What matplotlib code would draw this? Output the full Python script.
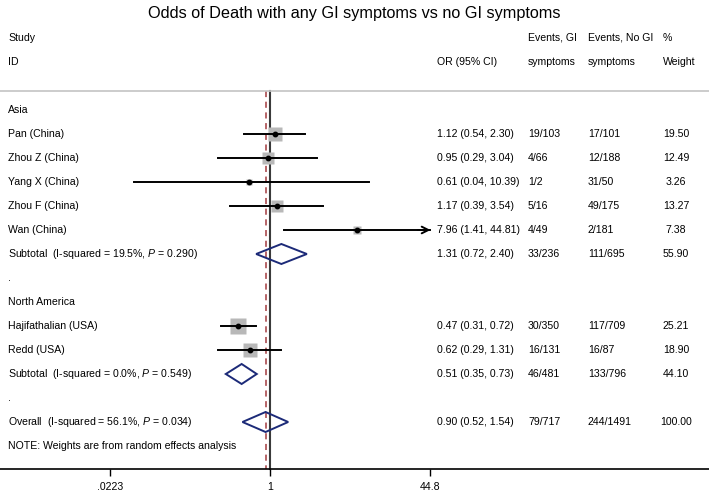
import numpy as np
import matplotlib
matplotlib.use("Agg")
import matplotlib.pyplot as plt
from matplotlib.transforms import blended_transform_factory
from matplotlib.patches import Polygon

plt.rcParams['font.family'] = ['Liberation Sans', 'DejaVu Sans']
plt.rcParams['mathtext.fontset'] = 'custom'
plt.rcParams['mathtext.rm'] = 'Liberation Sans'
plt.rcParams['mathtext.it'] = 'Liberation Sans:italic'

# study level data
asia_names = ["Pan (China)", "Zhou Z (China)", "Yang X (China)", "Zhou F (China)", "Wan (China)"]
asia_or = [1.12, 0.95, 0.61, 1.17, 7.96]
asia_lo = [0.54, 0.29, 0.04, 0.39, 1.41]
asia_hi = [2.30, 3.04, 10.39, 3.54, 44.81]
asia_ev_gi = ["19/103", "4/66", "1/2", "5/16", "4/49"]
asia_ev_nogi = ["17/101", "12/188", "31/50", "49/175", "2/181"]
asia_w = [19.50, 12.49, 3.26, 13.27, 7.38]

na_names = ["Hajifathalian (USA)", "Redd (USA)"]
na_or = [0.47, 0.62]
na_lo = [0.31, 0.29]
na_hi = [0.72, 1.31]
na_ev_gi = ["30/350", "16/131"]
na_ev_nogi = ["117/709", "16/87"]
na_w = [25.21, 18.90]

# pooled estimates: (label, or, lo, hi, ev_gi, ev_nogi, weight)
sub_asia = ("19.5%", "0.290", 1.31, 0.72, 2.40, "33/236", "111/695", 55.90)
sub_na = ("0.0%", "0.549", 0.51, 0.35, 0.73, "46/481", "133/796", 44.10)
overall = ("56.1%", "0.034", 0.90, 0.52, 1.54, "79/717", "244/1491", 100.00)

xticks = [0.0223, 1, 44.8]
xticklabels = [".0223", "1", "44.8"]

fig = plt.figure(figsize=(7.09, 4.91), dpi=100)
ax = fig.add_axes([0, 0, 1, 1])
ax.set_xscale('log')
px_per_ln = 42.1
ax.set_xlim(np.exp(-270 / px_per_ln), np.exp(439 / px_per_ln))
ax.set_ylim(15.875, -4.583)
for s in ['top', 'left', 'right']:
    ax.spines[s].set_visible(False)
ax.spines['bottom'].set_position(('data', 14.96))
ax.spines['bottom'].set_linewidth(1.2)
ax.set_yticks([])
ax.set_xticks(xticks)
ax.set_xticklabels(xticklabels, fontsize=7.6)
ax.xaxis.set_minor_locator(matplotlib.ticker.NullLocator())
ax.tick_params(axis='x', direction='out', length=5, width=1, pad=4)

tr = blended_transform_factory(ax.transAxes, ax.transData)
fs = 7.6
W = 709.0
col_or, col_gi, col_nogi, col_w = 437 / W, 528 / W, 588 / W, 676 / W
col_lbl = 8 / W

ax.text(0.5, -4.0, "Odds of Death with any GI symptoms vs no GI symptoms",
        transform=tr, ha='center', va='center', fontsize=11.7)
ax.text(col_lbl, -3, "Study", transform=tr, va='center', fontsize=fs)
ax.text(col_lbl, -2, "ID", transform=tr, va='center', fontsize=fs)
ax.text(col_or, -2, "OR (95% CI)", transform=tr, va='center', fontsize=fs)
ax.text(col_gi, -3, "Events, GI", transform=tr, va='center', fontsize=fs)
ax.text(col_gi, -2, "symptoms", transform=tr, va='center', fontsize=fs)
ax.text(col_nogi, -3, "Events, No GI", transform=tr, va='center', fontsize=fs)
ax.text(col_nogi, -2, "symptoms", transform=tr, va='center', fontsize=fs)
ax.text(663 / W, -3, "%", transform=tr, va='center', fontsize=fs)
ax.text(663 / W, -2, "Weight", transform=tr, va='center', fontsize=fs)

ax.axhline(-0.79, color='#c4c4c4', lw=1.2)

# reference lines
ax.plot([1, 1], [-0.79, 14.96], color='#3a3a3a', lw=1.5, zorder=1)
ax.plot([overall[2]] * 2, [-0.79, 14.96], color='#a33a3f', lw=1.1,
        dashes=(4, 3), zorder=1)


def study_row(y, name, est, lo, hi, egi, enogi, w):
    ax.text(col_lbl, y, name, transform=tr, va='center', fontsize=fs)
    xmax = ax.get_xlim()[1]
    if hi >= 44.8:
        ax.plot([lo, hi], [y, y], color='black', lw=1.4, zorder=2)
        ax.annotate("", xy=(hi * 1.08, y), xytext=(hi * 0.7, y),
                    arrowprops=dict(arrowstyle='->', color='black', lw=1.4,
                                    mutation_scale=12), zorder=2)
    else:
        ax.plot([lo, hi], [y, y], color='black', lw=1.4, zorder=2)
    side = 3.2 * np.sqrt(w) * 0.72
    ax.plot(est, y, marker='s', ms=side, color='#b8b8b8', mec='none', zorder=1.5)
    ax.plot(est, y, marker='o', ms=3.2, color='black', zorder=3)
    ax.text(col_or, y, f"{est:.2f} ({lo:.2f}, {hi:.2f})", transform=tr,
            va='center', fontsize=fs)
    ax.text(col_gi, y, egi, transform=tr, va='center', fontsize=fs)
    ax.text(col_nogi, y, enogi, transform=tr, va='center', fontsize=fs)
    ax.text(col_w, y, f"{w:.2f}", transform=tr, va='center', ha='center', fontsize=fs)


def pooled_row(y, label, pooled):
    i2, p, est, lo, hi, egi, enogi, w = pooled
    ax.text(col_lbl, y, f"{label}  (I-squared = {i2}, $\\mathit{{P}}$ = {p})",
            transform=tr, va='center', fontsize=fs)
    h = 10 / 24
    ax.add_patch(Polygon([(lo, y), (est, y - h), (hi, y), (est, y + h)],
                         closed=True, fill=False, ec='#1c2a78', lw=1.4, zorder=3))
    ax.text(col_or, y, f"{est:.2f} ({lo:.2f}, {hi:.2f})", transform=tr,
            va='center', fontsize=fs)
    ax.text(col_gi, y, egi, transform=tr, va='center', fontsize=fs)
    ax.text(col_nogi, y, enogi, transform=tr, va='center', fontsize=fs)
    ax.text(col_w, y, f"{w:.2f}", transform=tr, va='center', ha='center', fontsize=fs)


row = 0
ax.text(col_lbl, row, "Asia", transform=tr, va='center', fontsize=fs)
for i in range(len(asia_names)):
    row += 1
    study_row(row, asia_names[i], asia_or[i], asia_lo[i], asia_hi[i],
              asia_ev_gi[i], asia_ev_nogi[i], asia_w[i])
row += 1
pooled_row(row, "Subtotal", sub_asia)
row += 1
ax.text(col_lbl, row, ".", transform=tr, va='center', fontsize=fs)
row += 1
ax.text(col_lbl, row, "North America", transform=tr, va='center', fontsize=fs)
for i in range(len(na_names)):
    row += 1
    study_row(row, na_names[i], na_or[i], na_lo[i], na_hi[i],
              na_ev_gi[i], na_ev_nogi[i], na_w[i])
row += 1
pooled_row(row, "Subtotal", sub_na)
row += 1
ax.text(col_lbl, row, ".", transform=tr, va='center', fontsize=fs)
row += 1
pooled_row(row, "Overall", overall)
row += 1
ax.text(col_lbl, row, "NOTE: Weights are from random effects analysis",
        transform=tr, va='center', fontsize=fs)

fig.savefig("out.png", dpi=100)
